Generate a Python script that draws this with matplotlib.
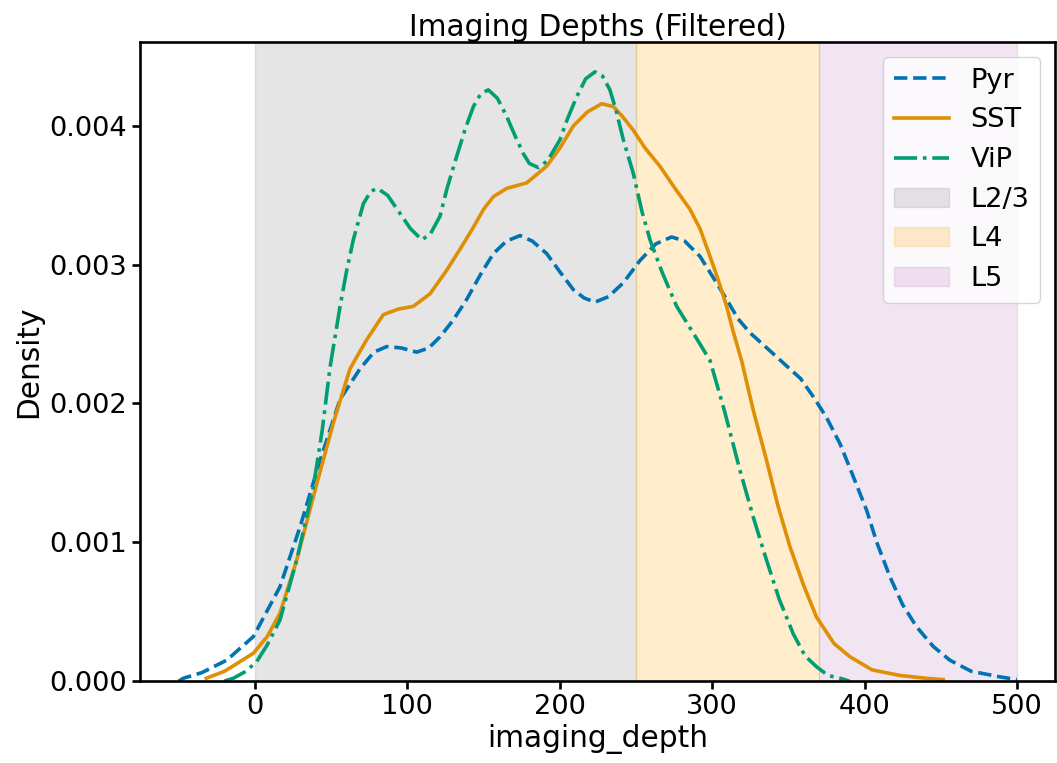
import matplotlib
matplotlib.use("Agg")
import matplotlib.pyplot as plt
import seaborn as sns

sns.set_context("notebook", font_scale=1.78)

# Values (imaging depth, density)
pyr_x = [-50, -47, -35, -18.6, -1.1, 16.4, 29.5, 42.7, 55.8, 68.9, 78, 86.4, 96, 106.1, 114, 121.4, 130, 138.9,
         148, 156.4, 165, 173.9, 182, 191.4, 200, 208.9, 216, 223.1, 232, 241.7, 252.6, 263, 273.4, 282, 292,
         300, 309.5, 317, 324.8, 337.9, 348.9, 358, 366.3, 375, 383.9, 392, 401.4, 408, 416.7, 425, 434.2, 445,
         456, 470, 488.8, 500]
pyr_y = [0.0, 0.00002, 0.00006, 0.00015, 0.00032, 0.00068, 0.00111, 0.00159, 0.00203, 0.00225, 0.00237, 0.00241,
         0.00240, 0.00237, 0.00240, 0.00248, 0.00260, 0.00275, 0.00293, 0.00308, 0.00317, 0.00321, 0.00317, 0.00308,
         0.00295, 0.00282, 0.00276, 0.00273, 0.00277, 0.00287, 0.00303, 0.00315, 0.00320, 0.00317, 0.00306,
         0.00292, 0.00275, 0.00261, 0.00251, 0.00238, 0.00227, 0.00218, 0.00205, 0.00190, 0.00171, 0.00149,
         0.00123, 0.00100, 0.00075, 0.00055, 0.00039, 0.00025, 0.00015, 0.00007, 0.00003, 0.00001]

sst_x = [-32, -20, -1.1, 8, 16.4, 27.3, 40.5, 51.4, 62.3, 73.3, 84.2, 94, 103.9, 114.8, 125.8, 135, 143.3, 150,
         156.4, 165.1, 178.3, 191.4, 200, 208.9, 218, 227.5, 235.1, 241, 248.2, 256, 265.7, 275, 285.4, 292,
         298.6, 304, 309.5, 314, 319.3, 327, 335.7, 343, 351, 360, 368.5, 380, 390.4, 405, 423.2, 440, 451.6]
sst_y = [0.00002, 0.00007, 0.00020, 0.00032, 0.00049, 0.00087, 0.00142, 0.00186, 0.00225, 0.00246, 0.00264,
         0.00268, 0.00270, 0.00279, 0.00296, 0.00312, 0.00327, 0.00340, 0.00349, 0.00355, 0.00359, 0.00371,
         0.00384, 0.00400, 0.00410, 0.00416, 0.00414, 0.00407, 0.00397, 0.00384, 0.00371, 0.00356, 0.00340,
         0.00326, 0.00306, 0.00289, 0.00270, 0.00251, 0.00231, 0.00195, 0.00159, 0.00127, 0.00097, 0.00069,
         0.00046, 0.00027, 0.000175, 0.00008, 0.00004, 0.00002, 0.00001]

vip_x = [-20, -14.2, -6, 1.1, 8, 16.4, 27.3, 38.3, 44, 49.2, 55.8, 60, 64.5, 71.1, 76, 80.3, 87, 95.1, 102, 109.4,
         115, 121.4, 126, 132.3, 138, 143.3, 148, 153.1, 159, 165.1, 171, 176.1, 180, 185.9, 192, 200.1, 205,
         211.1, 217, 223.1, 228, 232.9, 237, 241.7, 248.2, 254, 259.2, 267, 276.7, 288, 298.6, 308, 318.2,
         327, 335.7, 344, 353.2, 361, 368.5, 376, 383.9, 390]
vip_y = [0.0, 0.00002, 0.00007, 0.00014, 0.00026, 0.00044, 0.00087, 0.00140, 0.00180, 0.00226, 0.00270,
         0.00295, 0.00318, 0.00344, 0.00353, 0.00355, 0.00350, 0.00337, 0.00326, 0.00318, 0.00322, 0.00335,
         0.00355, 0.00378, 0.00398, 0.00414, 0.00423, 0.00426, 0.00420, 0.00407, 0.00392, 0.00380, 0.00373,
         0.00370, 0.00375, 0.00390, 0.00405, 0.00421, 0.00434, 0.00439, 0.00436, 0.00426, 0.00411, 0.00390,
         0.00366, 0.00338, 0.00318, 0.00295, 0.00270, 0.00250, 0.00231, 0.00195, 0.00152, 0.00118, 0.00087,
         0.00059, 0.00034, 0.00018, 0.000103, 0.00004, 0.00002, 0.0]

layer_names = ["L2/3", "L4", "L5"]
layer_bounds = [(0, 250), (250, 370), (370, 500)]
layer_colors = ["gray", "orange", "purple"]
layer_alphas = [0.2, 0.2, 0.1]

palette = sns.color_palette("colorblind")

fig = plt.figure(figsize=(10.57, 7.63), dpi=100)
ax = fig.add_axes([140 / 1057, 1 - 681 / 763, (1055 - 140) / 1057, (681 - 42) / 763])

ax.plot(pyr_x, pyr_y, color=palette[0], ls="--", lw=2.6, label="Pyr")
ax.plot(sst_x, sst_y, color=palette[1], ls="-", lw=2.6, label="SST")
ax.plot(vip_x, vip_y, color=palette[2], ls="-.", lw=2.6, label="ViP")

for name, (a, b), c, al in zip(layer_names, layer_bounds, layer_colors, layer_alphas):
    ax.axvspan(a, b, color=c, alpha=al, label=name, zorder=0)

for s in ax.spines.values():
    s.set_linewidth(1.9)
ax.tick_params(width=1.9, length=6)

ax.set_xlim(-75.5, 525)
ax.set_ylim(0, 0.004605)
ax.set_yticks([0, 0.001, 0.002, 0.003, 0.004])
ax.set_yticklabels(["0.000", "0.001", "0.002", "0.003", "0.004"])
ax.set_xticks([0, 100, 200, 300, 400, 500])
ax.set_xlabel("imaging_depth", labelpad=3)
ax.set_ylabel("Density")
ax.set_title("Imaging Depths (Filtered)", pad=4)
ax.legend(loc="upper right", borderaxespad=0.55)

fig.savefig("out.png", dpi=100)
